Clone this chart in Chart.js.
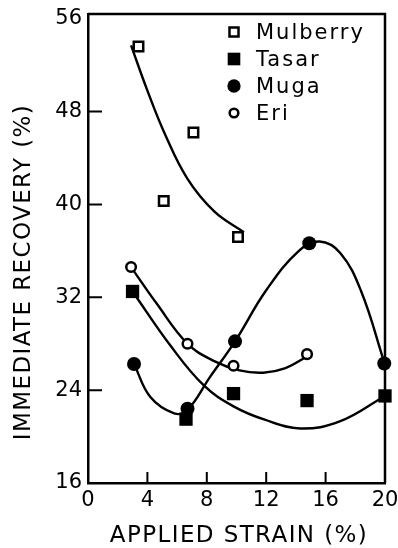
<!DOCTYPE html>
<html>
<head>
<meta charset="utf-8">
<title>Immediate recovery vs applied strain</title>
<script src="https://cdn.jsdelivr.net/npm/chart.js@4.4.1/dist/chart.umd.min.js"></script>
<style>
    html, body { margin: 0; padding: 0; background: #fff; }
    #wrap { position: relative; width: 398px; height: 548px; }
</style>
</head>
<body>
<div id="wrap"><canvas id="chart"></canvas></div>
<script>
// measured points, strain (%) vs immediate recovery (%)
const mulberryStrain = [3.4, 5.1, 7.1, 10.1];
const mulberryRecovery = [53.6, 40.3, 46.2, 37.2];
const tasarStrain = [3.0, 6.6, 9.8, 14.75, 20];
const tasarRecovery = [32.5, 21.5, 23.7, 23.1, 23.5];
const mugaStrain = [3.1, 6.7, 9.9, 14.9, 19.95];
const mugaRecovery = [26.25, 22.4, 28.2, 36.65, 26.3];
const eriStrain = [2.9, 6.7, 9.8, 14.75];
const eriRecovery = [34.6, 28.0, 26.1, 27.1];

// hand-drawn trend curves through each set
const mulberryFitStrain = [2.9, 4.0, 5.2, 6.7, 8.5, 10.5];
const mulberryFitRecovery = [53.7, 49.8, 46.0, 42.2, 39.4, 37.6];
const tasarFitStrain = [3.0, 5.6, 7.8, 9.8, 11.9, 14.3, 16.95, 20];
const tasarFitRecovery = [32.5, 27.75, 24.4, 22.6, 21.45, 20.7, 21.3, 23.5];
const mugaFitStrain = [3.1, 4.2, 5.8, 6.7, 8.2, 9.9, 12.0, 14.2, 15.6, 17.0, 18.4, 19.95];
const mugaFitRecovery = [26.25, 23.4, 22.0, 22.3, 25.1, 28.2, 32.6, 36.0, 36.8, 35.8, 32.5, 26.4];
const eriFitStrain = [2.9, 4.6, 6.7, 8.5, 10.2, 11.8, 13.3, 14.75];
const eriFitRecovery = [34.6, 31.5, 28.0, 26.5, 25.7, 25.5, 25.9, 26.9];

const seriesNames = ["Mulberry", "Tasar", "Muga", "Eri"];
const strainTicks = [0, 4, 8, 12, 16, 20];
const recoveryTicks = [16, 24, 32, 40, 48, 56];

const FONT = "'DejaVu Sans', 'Liberation Sans', sans-serif";
const INK = "#000";

function toPoints(xs, ys) {
    return xs.map((x, i) => ({ x: x, y: ys[i] }));
}

// marker look for each series, shared by plot and legend
const markerStyles = {
    Mulberry: { pointStyle: "rect", radius: 6.7, borderWidth: 2.5, fill: "#fff" },
    Tasar: { pointStyle: "rect", radius: 9.4, borderWidth: 0, fill: INK },
    Muga: { pointStyle: "circle", radius: 7, borderWidth: 0, fill: INK },
    Eri: { pointStyle: "circle", radius: 4.8, borderWidth: 2.5, fill: "#fff" },
};

function fitDataset(xs, ys) {
    return {
        type: "line",
        data: toPoints(xs, ys),
        borderColor: INK,
        borderWidth: 2.4,
        pointRadius: 0,
        fill: false,
        tension: 0.4,
        order: 2,
        clip: false,
    };
}

function pointDataset(name, xs, ys) {
    const m = markerStyles[name];
    return {
        type: "scatter",
        label: name,
        data: toPoints(xs, ys),
        pointStyle: m.pointStyle,
        pointRadius: m.radius,
        pointBorderWidth: m.borderWidth,
        pointBackgroundColor: m.fill,
        pointBorderColor: INK,
        showLine: false,
        order: 1,
        clip: false,
    };
}

// inward tick marks plus the top/right frame lines
const framePlugin = {
    id: "frame",
    beforeDatasetsDraw(chart) {
        const { ctx, chartArea: a, scales } = chart;
        ctx.save();
        ctx.strokeStyle = INK;
        ctx.lineWidth = 2.5;
        ctx.beginPath();
        ctx.moveTo(a.left, a.top);
        ctx.lineTo(a.right, a.top);
        ctx.lineTo(a.right, a.bottom);
        ctx.stroke();

        ctx.lineWidth = 2;
        ctx.beginPath();
        strainTicks.slice(1, -1).forEach((v) => {
            const px = scales.x.getPixelForValue(v);
            ctx.moveTo(px, a.bottom);
            ctx.lineTo(px, a.bottom - 11);
        });
        recoveryTicks.slice(1, -1).forEach((v) => {
            const py = scales.y.getPixelForValue(v);
            ctx.moveTo(a.left, py);
            ctx.lineTo(a.left + 14, py);
        });
        ctx.stroke();
        ctx.restore();
    },
};

// axis titles and the boxed-in legend, drawn with letter spacing
const labelsPlugin = {
    id: "labels",
    afterDraw(chart) {
        const { ctx } = chart;
        ctx.save();
        ctx.fillStyle = INK;
        ctx.letterSpacing = "1.4px";
        ctx.font = "23px " + FONT;
        ctx.textAlign = "center";
        ctx.textBaseline = "alphabetic";
        ctx.fillText("APPLIED STRAIN (%)", 239, 542);

        ctx.save();
        ctx.translate(30, 272);
        ctx.rotate(-Math.PI / 2);
        ctx.fillText("IMMEDIATE RECOVERY (%)", 0, 0);
        ctx.restore();

        ctx.letterSpacing = "2px";
        ctx.font = "21px " + FONT;
        ctx.textAlign = "left";
        seriesNames.forEach((name, i) => {
            const m = markerStyles[name];
            const baseY = 39 + i * 27;
            const legendScale = name === "Eri" ? 0.9 : 0.95;
            ctx.fillStyle = m.fill;
            ctx.strokeStyle = INK;
            ctx.lineWidth = m.borderWidth;
            Chart.helpers.drawPoint(ctx, {
                pointStyle: m.pointStyle,
                radius: m.radius * legendScale,
                borderWidth: m.borderWidth,
                rotation: 0,
            }, 234, baseY - 7);
            ctx.fillStyle = INK;
            ctx.fillText(name, 256, baseY);
        });
        ctx.restore();
    },
};

new Chart(document.getElementById("chart"), {
    data: {
        datasets: [
            fitDataset(mulberryFitStrain, mulberryFitRecovery),
            fitDataset(tasarFitStrain, tasarFitRecovery),
            fitDataset(mugaFitStrain, mugaFitRecovery),
            fitDataset(eriFitStrain, eriFitRecovery),
            pointDataset("Mulberry", mulberryStrain, mulberryRecovery),
            pointDataset("Tasar", tasarStrain, tasarRecovery),
            pointDataset("Muga", mugaStrain, mugaRecovery),
            pointDataset("Eri", eriStrain, eriRecovery),
        ],
    },
    options: {
        responsive: true,
        maintainAspectRatio: false,
        animation: false,
        layout: {
            padding: { top: 14, right: 13, bottom: 0, left: 0 },
        },
        scales: {
            x: {
                type: "linear",
                min: 0,
                max: 20,
                afterBuildTicks(scale) {
                    scale.ticks = strainTicks.map((v) => ({ value: v }));
                },
                afterFit(scale) {
                    scale.height = 65;
                    scale.paddingLeft = 0;
                    scale.paddingRight = 0;
                },
                ticks: {
                    color: INK,
                    font: { family: FONT, size: 21 },
                    padding: 5,
                },
                grid: { drawOnChartArea: false, drawTicks: false },
                border: { display: true, color: INK, width: 2.5 },
            },
            y: {
                type: "linear",
                min: 16,
                max: 56.4,
                afterBuildTicks(scale) {
                    scale.ticks = recoveryTicks.map((v) => ({ value: v }));
                },
                afterFit(scale) {
                    scale.width = 88;
                    scale.paddingTop = 0;
                    scale.paddingBottom = 0;
                },
                ticks: {
                    color: INK,
                    font: { family: FONT, size: 21 },
                    padding: 6,
                },
                grid: { drawOnChartArea: false, drawTicks: false },
                border: { display: true, color: INK, width: 2.5 },
            },
        },
        plugins: {
            legend: { display: false },
            tooltip: { enabled: false },
        },
    },
    plugins: [framePlugin, labelsPlugin],
});
</script>
</body>
</html>
